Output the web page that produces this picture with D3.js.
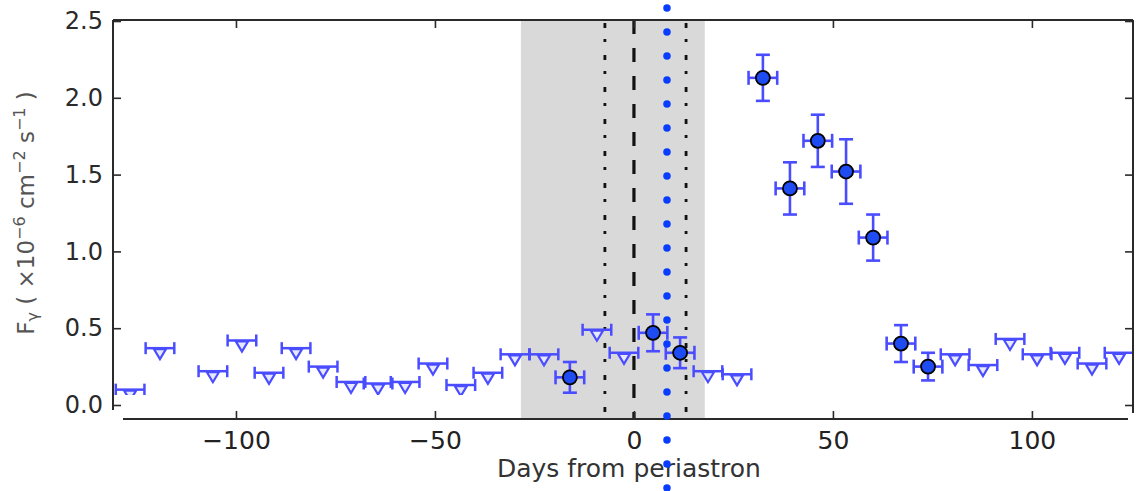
<!DOCTYPE html>
<html>
<head>
<meta charset="utf-8">
<script src="https://cdn.jsdelivr.net/npm/d3@7"></script>
<style>
  html, body { margin: 0; padding: 0; background: #fff; }
  svg { display: block; font-family: "DejaVu Sans", sans-serif; }
</style>
</head>
<body>
<svg id="chart" width="1138" height="491"></svg>
<script>
// ---- data ----
const xTicks = [-100, -50, 0, 50, 100];
const yTicks = [0, 0.5, 1.0, 1.5, 2.0, 2.5];
const xLimits = [-130.9, 125.4];
const yLimits = [0, 2.5];

// upper limits (days, flux)
const ulDays = [-126.6, -119.1, -105.8, -98.5, -91.7, -84.9, -78.1, -71.1, -64.3, -57.5, -50.5, -43.5, -36.7, -29.9, -22.6, -9.3, -2.5, 18.6, 25.9, 80.7, 87.7, 94.5, 101.3, 108.3, 115.1, 121.9];
const ulFlux = [0.10, 0.37, 0.22, 0.42, 0.21, 0.37, 0.25, 0.15, 0.14, 0.15, 0.27, 0.13, 0.21, 0.33, 0.33, 0.49, 0.34, 0.22, 0.20, 0.33, 0.26, 0.43, 0.33, 0.34, 0.27, 0.34];

// detections (days, flux, error)
const detDays = [-16.1, 4.8, 11.6, 32.4, 39.2, 46.2, 53.3, 60.1, 67.1, 73.9];
const detFlux = [0.18, 0.47, 0.34, 2.13, 1.41, 1.72, 1.52, 1.09, 0.40, 0.25];
const detErr  = [0.10, 0.12, 0.10, 0.15, 0.17, 0.17, 0.21, 0.15, 0.12, 0.09];
const binHalf = 3.6; // days

// shaded interval and reference lines (days)
const bandRange = [-28.4, 17.8];
const periastron = 0;
const dashDotDays = [-7.3, 13.1];
const blueDotDay = 8.3;

// ---- layout ----
const svg = d3.select("#chart");
const L = 113, R = 1133, T = 20, B = 405, AXY = 419;
const x = d3.scaleLinear().domain(xLimits).range([L, R]);
const y = d3.scaleLinear().domain(yLimits).range([B, 21]);

const errColor = "#4a4cff";
const pointFill = "#1f4cf2";

// grey band
svg.append("rect")
  .attr("x", x(bandRange[0])).attr("y", T)
  .attr("width", x(bandRange[1]) - x(bandRange[0]))
  .attr("height", AXY - T)
  .attr("fill", "#d9d9d9");

// dash-dot lines
svg.selectAll("line.dd").data(dashDotDays).enter().append("line")
  .attr("x1", d => x(d)).attr("x2", d => x(d))
  .attr("y1", T + 3).attr("y2", AXY)
  .attr("stroke", "#111").attr("stroke-width", 2.8)
  .attr("stroke-dasharray", "5,11,3,13");

// dashed periastron line
svg.append("line")
  .attr("x1", x(periastron)).attr("x2", x(periastron))
  .attr("y1", T).attr("y2", AXY)
  .attr("stroke", "#111").attr("stroke-width", 3.2)
  .attr("stroke-dasharray", "14,14");

// clip for data markers
svg.append("clipPath").attr("id", "clip")
  .append("rect").attr("x", L).attr("y", T).attr("width", R - L).attr("height", 395 - T);
const dataG = svg.append("g").attr("clip-path", "url(#clip)");

// upper limits
const ul = ulDays.map((d, i) => ({d, v: ulFlux[i]}));
const ulG = dataG.selectAll("g.ul").data(ul).enter().append("g");
ulG.append("line")
  .attr("x1", p => x(p.d - binHalf)).attr("x2", p => x(p.d + binHalf))
  .attr("y1", p => y(p.v)).attr("y2", p => y(p.v))
  .attr("stroke", errColor).attr("stroke-width", 2.5);
ulG.append("path")
  .attr("d", p => {
    const cx = x(p.d), cy = y(p.v);
    return `M${cx - 6},${cy + 1}L${cx + 6},${cy + 1}L${cx},${cy + 11}Z`;
  })
  .attr("fill", "#e6e8ff").attr("stroke", errColor).attr("stroke-width", 2.2);
[-1, 1].forEach(s => {
  ulG.append("line")
    .attr("x1", p => x(p.d + s * binHalf)).attr("x2", p => x(p.d + s * binHalf))
    .attr("y1", p => y(p.v) - 6).attr("y2", p => y(p.v) + 6)
    .attr("stroke", errColor).attr("stroke-width", 2.5);
});

// detections
const det = detDays.map((d, i) => ({d, v: detFlux[i], e: detErr[i]}));
const dG = dataG.selectAll("g.det").data(det).enter().append("g");
dG.append("line")
  .attr("x1", p => x(p.d)).attr("x2", p => x(p.d))
  .attr("y1", p => y(p.v - p.e)).attr("y2", p => y(p.v + p.e))
  .attr("stroke", errColor).attr("stroke-width", 2.6);
dG.append("line")
  .attr("x1", p => x(p.d - binHalf)).attr("x2", p => x(p.d + binHalf))
  .attr("y1", p => y(p.v)).attr("y2", p => y(p.v))
  .attr("stroke", errColor).attr("stroke-width", 2.6);
[-1, 1].forEach(s => {
  dG.append("line")
    .attr("x1", p => x(p.d) - 7).attr("x2", p => x(p.d) + 7)
    .attr("y1", p => y(p.v + s * p.e)).attr("y2", p => y(p.v + s * p.e))
    .attr("stroke", errColor).attr("stroke-width", 2.6);
  dG.append("line")
    .attr("x1", p => x(p.d + s * binHalf)).attr("x2", p => x(p.d + s * binHalf))
    .attr("y1", p => y(p.v) - 7).attr("y2", p => y(p.v) + 7)
    .attr("stroke", errColor).attr("stroke-width", 2.6);
});
dG.append("circle")
  .attr("cx", p => x(p.d)).attr("cy", p => y(p.v)).attr("r", 7)
  .attr("fill", pointFill).attr("stroke", "#000").attr("stroke-width", 1.8);

// frame
const frame = svg.append("g").attr("stroke", "#2a2a2a").attr("stroke-width", 2).attr("fill", "none");
frame.append("line").attr("x1", L).attr("x2", R).attr("y1", T).attr("y2", T);
frame.append("line").attr("x1", L).attr("x2", L).attr("y1", T).attr("y2", 410);
frame.append("line").attr("x1", R).attr("x2", R).attr("y1", T).attr("y2", 413);
frame.append("line").attr("x1", L + 10).attr("x2", R - 5).attr("y1", AXY).attr("y2", AXY);

// axes
const xAxis = svg.append("g").attr("transform", `translate(0,${AXY})`)
  .call(d3.axisBottom(x).tickValues(xTicks).tickSizeInner(-8).tickSizeOuter(0).tickPadding(12));
xAxis.select(".domain").remove();
xAxis.selectAll("line").attr("stroke", "#2a2a2a").attr("stroke-width", 1.6);
xAxis.selectAll("text").attr("font-size", 25).attr("fill", "#222").attr("font-family", "DejaVu Sans");

const xTop = svg.append("g").attr("transform", `translate(0,${T})`)
  .call(d3.axisTop(x).tickValues(xTicks).tickSizeInner(-8).tickSizeOuter(0).tickFormat(""));
xTop.select(".domain").remove();
xTop.selectAll("line").attr("stroke", "#2a2a2a").attr("stroke-width", 1.6);

const yAxis = svg.append("g").attr("transform", `translate(${L},0)`)
  .call(d3.axisLeft(y).tickValues(yTicks).tickFormat(d3.format(".1f")).tickSizeInner(-8).tickSizeOuter(0).tickPadding(10));
yAxis.select(".domain").remove();
yAxis.selectAll("line").attr("stroke", "#2a2a2a").attr("stroke-width", 1.6);
yAxis.selectAll("text").attr("font-size", 24).attr("fill", "#2a2a2a").attr("font-family", "DejaVu Sans");

const yRight = svg.append("g").attr("transform", `translate(${R},0)`)
  .call(d3.axisRight(y).tickValues(yTicks).tickSizeInner(-8).tickSizeOuter(0).tickFormat(""));
yRight.select(".domain").remove();
yRight.selectAll("line").attr("stroke", "#2a2a2a").attr("stroke-width", 1.6);

// axis titles
svg.append("text")
  .attr("x", x(periastron) - 5).attr("y", 477)
  .attr("text-anchor", "middle").attr("font-size", 25).attr("fill", "#333")
  .text("Days from periastron");

const yl = svg.append("text")
  .attr("transform", "translate(34,213) rotate(-90)")
  .attr("text-anchor", "middle").attr("font-size", 23).attr("fill", "#555");
yl.append("tspan").text("F");
yl.append("tspan").attr("baseline-shift", "-25%").attr("font-size", 16).text("γ");
yl.append("tspan").text(" ( ×10");
yl.append("tspan").attr("baseline-shift", "super").attr("font-size", 16).text("−6");
yl.append("tspan").text(" cm");
yl.append("tspan").attr("baseline-shift", "super").attr("font-size", 16).text("−2");
yl.append("tspan").text(" s");
yl.append("tspan").attr("baseline-shift", "super").attr("font-size", 16).text("−1");
yl.append("tspan").text(" )");

// blue dotted overlay line
svg.append("line")
  .attr("x1", x(blueDotDay)).attr("x2", x(blueDotDay))
  .attr("y1", 8).attr("y2", 500)
  .attr("stroke", "#0a3cff").attr("stroke-width", 7.5)
  .attr("stroke-linecap", "round").attr("stroke-dasharray", "0,24");
</script>
</body>
</html>
